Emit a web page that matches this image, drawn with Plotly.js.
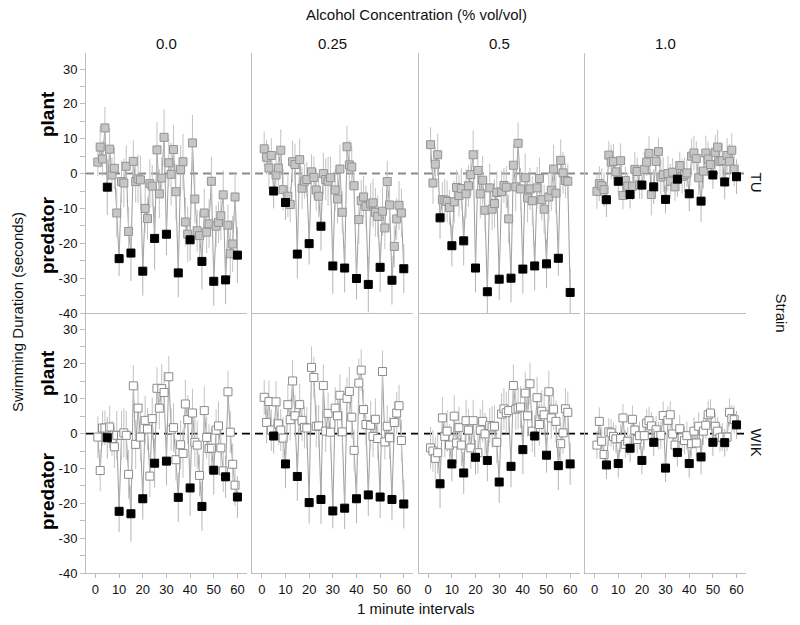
<!DOCTYPE html>
<html>
<head>
<meta charset="utf-8">
<script src="https://cdn.plot.ly/plotly-3.0.1.min.js"></script>
<style>html,body{margin:0;padding:0;background:#fff;}#chart{width:800px;height:625px;}</style>
</head>
<body>
<div id="chart"></div>
<script>
// ---- data ----
const minutes = [1,2,3,4,5,6,7,8,9,10,11,12,13,14,15,16,17,18,19,20,21,22,23,24,25,26,27,28,29,30,
  31,32,33,34,35,36,37,38,39,40,41,42,43,44,45,46,47,48,49,50,51,52,53,54,55,56,57,58,59,60];
const strains = ['TU', 'WIK'];
const concentrations = ['0.0', '0.25', '0.5', '1.0'];
const xTickVals = [0, 10, 20, 30, 40, 50, 60];
const yTickVals = [-40, -30, -20, -10, 0, 10, 20, 30];
const yTickText = ['-40', '-30', '-20', '-10', '0', '10', '20', '30'];
const yMinorVals = [-35, -25, -15, -5, 5, 15, 25];

const tu00 = [3.3,7.6,4.2,13.1,-3.9, 7.0,-0.4,1.5,-11.3,-24.4, -2.3,-2.7,2.1,-16.6,-22.8, 3.5,-2.3,-1.5,-1.8,-28.0,
  -10.0,-12.9,-2.9,-3.6,-18.6, 6.8,-5.8,-1.3,10.4,-17.4, 3.1,-0.2,6.9,-5.2,-28.5, 1.2,3.4,-13.9,-17.4,-19.0,
  8.8,-7.3,-16.4,-17.8,-25.2, -11.3,-16.8,-14.4,-2.2,-30.9, -15.1,-14.0,-12.1,-6.1,-30.5, -14.8,-23.0,-20.2,-6.7,-23.4];
const tu025 = [7.1,4.7,1.6,5.2,-5.0, -0.4,1.6,6.7,-4.6,-8.3, -6.5,-8.9,3.4,2.6,-23.1, 4.0,-4.2,-2.2,-1.7,-20.1,
  0.5,-1.1,-4.7,-6.5,-15.1, 0.0,-1.7,-2.2,-1.2,-26.5, -4.7,-7.3,1.3,-11.1,-27.1, 7.7,2.5,1.9,-3.5,-30.1,
  -13.2,-7.8,-6.7,-9.4,-31.8, -8.7,-8.4,-11.1,-12.3,-26.9, -10.8,-15.6,-2.3,-9.0,-30.6, -20.9,-13.0,-9.1,-11.3,-27.3];
const tu05 = [8.3,-2.7,2.7,5.4,-12.7, -7.5,-7.6,-8.0,-9.7,-20.7, -8.1,-4.0,-6.3,-4.3,-19.3, -5.8,-3.5,-0.3,5.4,-27.1,
  0.9,-5.8,-1.9,-10.5,-33.9, -4.1,-10.2,-8.6,-5.4,-30.3, -5.2,-3.4,-3.9,-13.0,-30.0, 2.4,-3.8,8.7,-4.4,-27.4,
  -1.2,-7.0,-4.4,-7.8,-26.5, -4.1,-1.4,-7.5,-10.2,-25.9, -6.7,-4.8,1.3,-5.6,-24.3, 3.8,0.2,-2.0,-2.2,-34.1];
const tu10 = [-5.1,-2.9,-3.5,-4.6,-7.5, 5.3,3.3,3.5,0.5,-2.2, 3.7,-6.3,-2.0,-3.6,-6.0, -3.6,1.2,0.6,-3.2,-3.3,
  1.2,3.3,5.8,-6.0,-3.8, 3.5,6.3,-1.0,-0.3,-7.4, 0.0,-2.2,0.4,-3.8,-1.6, 2.3,-0.8,-0.3,0.2,-5.8,
  5.0,5.9,4.3,-1.2,-7.9, 0.7,5.9,4.2,2.6,-0.4, 6.1,7.6,3.5,3.7,-2.4, 5.2,3.5,6.7,1.3,-0.9];
const wik00 = [-1.0,-10.6,1.6,1.6,-1.2, 1.9,-1.4,-3.8,-0.5,-22.3, -0.5,0.2,-0.5,-11.7,-23.0, 13.7,-3.1,7.3,-1.0,-18.7,
  3.8,1.3,-12.2,4.3,-8.5, 13.0,7.3,12.9,11.8,-7.9, 16.3,1.1,1.7,-7.5,-18.3, -3.2,-5.7,8.5,4.0,-15.6,
  5.9,-2.5,-3.3,-12.0,-20.9, 6.6,-1.1,-4.3,-4.2,-10.5, 1.0,2.2,-4.1,-10.7,-12.4, 12.0,0.4,-8.8,-14.8,-18.2];
const wik025 = [10.4,3.2,9.2,1.0,-0.7, 9.1,2.8,1.0,-1.3,-8.7, 8.3,4.0,15.1,5.1,-12.3, 8.3,3.8,1.8,1.6,-19.8,
  19.0,16.1,2.1,2.2,-18.9, 13.8,0.7,5.8,0.4,-22.2, 7.3,5.1,11.0,0.5,-21.4, 10.1,12.1,4.7,-4.8,-18.7,
  14.5,18.2,6.9,2.6,-17.6, 2.4,-0.8,4.1,-1.4,-18.2, 17.8,-2.4,2.1,-1.2,-18.9, 3.2,5.9,8.0,-2.0,-20.2];
const wik05 = [-4.1,-5.0,-7.1,-5.5,-14.4, 4.5,-0.8,0.7,-3.3,-8.7, 5.0,-2.7,1.7,-3.3,-11.3, 3.7,1.0,-4.1,3.7,-6.8,
  -5.5,1.0,3.5,-0.1,-7.7, 2.3,1.9,2.1,-2.5,-13.9, 5.6,7.1,6.0,6.6,-9.4, 13.8,7.0,7.3,7.6,-4.6,
  11.6,5.1,14.3,0.7,-0.7, 10.3,2.6,6.4,5.4,-6.2, 12.0,4.5,7.0,3.5,-9.2, -2.9,0.2,7.1,6.1,-8.7];
const wik10 = [-3.3,3.5,-2.2,-6.0,-9.0, 0.5,0.2,-0.8,-1.5,-8.6, -1.4,4.5,-3.1,-2.2,-4.2, 4.1,1.0,-1.7,-0.6,-7.7,
  -0.6,3.0,3.7,2.2,-2.5, 1.1,-0.6,-0.5,5.2,-9.9, 3.8,5.4,-0.1,-3.3,-5.4, 1.4,-1.2,-2.0,-0.6,-8.6,
  -2.9,0.7,-2.7,2.1,-6.7, 0.7,2.4,5.4,5.9,-2.5, 2.1,0.7,-1.2,-1.0,-2.6, -1.0,6.1,4.3,4.0,2.5];

const tu00Err = [4,6,5,6,8, 6,5,6,7,5, 6,7,6,7,8, 6,6,7,7,7, 7,6,7,6,9, 8,7,6,8,6, 7,9,7,8,7, 7,8,7,8,6, 8,7,6,7,8, 7,6,7,7,7, 6,6,7,7,7, 6,7,8,7,8];
const tu025Err = [5,5,6,5,5, 6,5,6,6,5, 6,5,6,6,7, 6,6,5,5,6, 5,6,6,6,7, 6,6,7,6,8, 6,7,7,6,7, 6,7,6,6,6, 7,6,6,6,8, 6,7,7,6,7, 7,6,6,7,7, 6,6,7,7,7];
const tu05Err = [5,6,5,6,6, 5,6,6,5,6, 6,5,6,6,7, 7,6,6,7,7, 6,7,7,6,7, 7,6,7,6,6, 6,5,6,7,7, 6,7,6,6,7, 7,7,6,7,7, 6,6,6,7,7, 7,6,7,6,5, 6,6,5,5,7];
const tu10Err = [5,5,5,5,5, 4,5,5,4,4, 5,4,4,4,4, 4,5,4,4,4, 5,4,5,6,5, 4,4,5,5,4, 5,5,4,4,5, 4,5,5,4,5, 5,5,5,5,6, 5,5,5,4,4, 5,5,5,5,5, 5,5,5,5,5];
const wik00Err = [6,6,5,5,6, 6,5,6,7,6, 7,7,7,7,8, 6,7,7,7,6, 7,6,6,6,7, 6,6,7,6,7, 6,6,7,6,7, 7,7,7,7,8, 7,7,7,6,7, 7,6,7,6,7, 6,7,6,6,6, 6,6,6,6,6];
const wik025Err = [5,6,6,6,5, 6,6,6,6,7, 6,6,6,6,7, 6,6,6,6,6, 6,6,6,6,7, 6,6,6,6,5, 6,6,6,6,6, 6,7,6,6,7, 7,6,6,6,6, 7,6,6,6,6, 6,5,6,6,6, 6,6,6,6,7];
const wik05Err = [6,6,6,6,7, 6,6,6,6,5, 6,6,6,6,6, 6,6,6,6,5, 6,6,6,6,6, 5,6,6,6,6, 6,6,6,6,6, 6,6,6,6,7, 6,6,6,6,6, 6,6,6,6,5, 6,6,6,6,7, 6,6,6,6,6];
const wik10Err = [4,4,4,4,4, 4,4,4,4,4, 4,4,4,4,4, 4,4,4,4,4, 4,4,4,4,4, 4,4,4,4,4, 4,4,4,4,4, 4,4,4,4,4, 4,4,4,4,5, 4,4,4,4,4, 4,4,4,4,4, 4,4,4,4,4];

// ---- build ----
const panelData = [
  [[tu00, tu00Err], [tu025, tu025Err], [tu05, tu05Err], [tu10, tu10Err]],
  [[wik00, wik00Err], [wik025, wik025Err], [wik05, wik05Err], [wik10, wik10Err]]
];
const FONT = 'Liberation Sans, Arial, Helvetica, sans-serif';
const AXC = '#bdbdbd';
const plantFill = ['#c6c6c6', '#ffffff'];
const plantLine = ['#939393', '#8a8a8a'];
const colStep = 166.5 / 660.5, colW = 161 / 660.5;

const traces = [];
const layout = {
  width: 800, height: 625,
  margin: {l: 86, r: 53.5, t: 53, b: 52},
  paper_bgcolor: '#fff', plot_bgcolor: 'rgba(0,0,0,0)',
  showlegend: false,
  font: {family: FONT, size: 13, color: '#111'},
  shapes: [], annotations: []
};

for (let r = 0; r < 2; r++) {
  for (let c = 0; c < 4; c++) {
    const n = r * 4 + c + 1;
    const xa = 'x' + (n === 1 ? '' : n), ya = 'y' + (n === 1 ? '' : n);
    const [vals, errs] = panelData[r][c];
    const px = [], py = [], pe = [], qx = [], qy = [], qe = [];
    minutes.forEach((m, i) => {
      if (m % 5 === 0) { qx.push(m); qy.push(vals[i]); qe.push(errs[i]); }
      else { px.push(m); py.push(vals[i]); pe.push(errs[i]); }
    });
    traces.push({x: minutes, y: vals, xaxis: xa, yaxis: ya, type: 'scatter', mode: 'lines',
      line: {color: '#9c9c9c', width: 1}, hoverinfo: 'skip'});
    traces.push({x: px, y: py, xaxis: xa, yaxis: ya, type: 'scatter', mode: 'markers',
      error_y: {type: 'data', array: pe, visible: true, color: '#c2c2c2', thickness: 1, width: 0},
      marker: {symbol: 'square', size: 8, color: plantFill[r], line: {color: plantLine[r], width: 1}}});
    traces.push({x: qx, y: qy, xaxis: xa, yaxis: ya, type: 'scatter', mode: 'markers',
      error_y: {type: 'data', array: qe, visible: true, color: '#b5b5b5', thickness: 1, width: 0},
      marker: {symbol: 'square', size: 8, color: '#000', line: {color: '#000', width: 1}}});

    layout['xaxis' + (n === 1 ? '' : n)] = {
      domain: [c * colStep, c * colStep + colW], range: [-4, 64], anchor: ya,
      showline: true, linecolor: AXC, linewidth: 1, zeroline: false, showgrid: false,
      tickmode: 'array', tickvals: xTickVals, ticks: r === 1 ? 'outside' : '', ticklen: 4, tickcolor: AXC,
      showticklabels: r === 1, tickfont: {family: FONT, size: 13, color: '#111'}
    };
    const yax = {
      domain: r === 0 ? [0.5, 1] : [0, 0.5], range: [-40, 34.6], anchor: xa,
      showline: true, linecolor: AXC, linewidth: 1, zeroline: false, showgrid: false,
      tickmode: 'array', tickvals: yTickVals, ticktext: yTickText,
      ticks: c === 0 ? 'outside' : '', ticklen: 5, tickcolor: AXC,
      showticklabels: c === 0, tickfont: {family: FONT, size: 13, color: '#111'}
    };
    if (c === 0) yax.minor = {tickmode: 'array', tickvals: yMinorVals, ticks: 'outside', ticklen: 5, tickcolor: AXC};
    layout['yaxis' + (n === 1 ? '' : n)] = yax;
  }
}

// zero reference lines
layout.shapes.push({type: 'line', xref: 'paper', yref: 'y', x0: 0, x1: 1, y0: 0, y1: 0, layer: 'below',
  line: {color: '#8a8a8a', width: 2, dash: '8px,5px'}});
layout.shapes.push({type: 'line', xref: 'paper', yref: 'y5', x0: 0, x1: 1, y0: 0, y1: 0, layer: 'below',
  line: {color: '#000', width: 1.6, dash: '8px,5px'}});

const ann = (text, x, y, opts) => Object.assign({text, x, y, xref: 'paper', yref: 'paper', showarrow: false,
  xanchor: 'center', yanchor: 'middle', font: {family: FONT, size: 15, color: '#111'}}, opts || {});

layout.annotations.push(ann('Alcohol Concentration (% vol/vol)', 0.5, 1 + 39 / 520));
concentrations.forEach((t, c) => layout.annotations.push(ann(t, c * colStep + colW / 2, 1 + 10 / 520)));
layout.annotations.push(ann('1 minute intervals', 0.5, -35 / 520));
layout.annotations.push(ann('Swimming Duration (seconds)', -68 / 660.5, 0.502, {textangle: -90}));
const boldFont = {family: FONT, size: 19, color: '#000', weight: 'bold'};
layout.annotations.push(ann('<b>plant</b>', -39 / 660.5, (573 - 114) / 520, {textangle: -90, font: boldFont}));
layout.annotations.push(ann('<b>predator</b>', -39 / 660.5, (573 - 235) / 520, {textangle: -90, font: boldFont}));
layout.annotations.push(ann('<b>plant</b>', -39 / 660.5, (573 - 373) / 520, {textangle: -90, font: boldFont}));
layout.annotations.push(ann('<b>predator</b>', -39 / 660.5, (573 - 491) / 520, {textangle: -90, font: boldFont}));
layout.annotations.push(ann(strains[0], (758 - 86) / 660.5, 0.75, {textangle: 90}));
layout.annotations.push(ann(strains[1], (758 - 86) / 660.5, 0.25, {textangle: 90}));
layout.annotations.push(ann('Strain', (783 - 86) / 660.5, 0.5, {textangle: 90}));

Plotly.newPlot('chart', traces, layout, {staticPlot: true, displayModeBar: false});
</script>
</body>
</html>
